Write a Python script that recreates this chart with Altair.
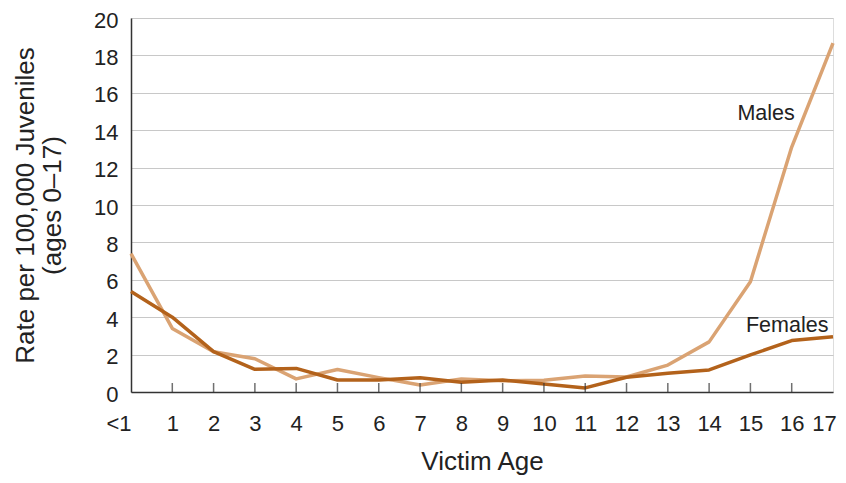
import altair as alt
import pandas as pd

ages = list(range(18))  # 0 stands for "<1"
males = [7.4, 3.4, 2.15, 1.78, 0.7, 1.2, 0.77, 0.37, 0.7, 0.6, 0.63, 0.86, 0.8, 1.44, 2.68, 5.9, 13.1, 18.66]
females = [5.37, 4.0, 2.16, 1.21, 1.26, 0.64, 0.64, 0.76, 0.52, 0.64, 0.43, 0.22, 0.79, 1.0, 1.18, 1.98, 2.75, 2.96]
tick_ages = list(range(1, 17))
y_ticks = list(range(0, 21, 2))
label_text = ["Males", "Females"]
label_x = [15.38, 15.89]
label_y = [14.55, 3.21]

FONT = "Liberation Sans"
C_M = "#DAA373"
C_F = "#B3621B"

df = pd.DataFrame({
    "age": ages * 2,
    "rate": males + females,
    "sex": ["Males"] * 18 + ["Females"] * 18,
})
ticks = pd.DataFrame({"age": tick_ages, "zero": [0] * len(tick_ages)})
labels = pd.DataFrame({"text": label_text, "x": label_x, "y": label_y})

xscale = alt.Scale(domain=[0, 17], nice=False, zero=False)
yscale = alt.Scale(domain=[0, 20], nice=False)

xaxis = alt.Axis(values=ages, title="Victim Age", grid=False, tickSize=0,
                 labelExpr="datum.value == 0 ? '<1' : datum.value",
                 labelAlign=alt.condition("datum.value == 0", alt.value("right"), alt.value("center")),
                 labelOffset=alt.condition("datum.value == 17", alt.value(-9), alt.value(0)),
                 labelOverlap=False,
                 labelFontSize=22, labelPadding=21, labelColor="#222",
                 titleFontSize=26, titleFontWeight="normal", titleY=77, titleBaseline="alphabetic",
                 titleColor="#222", domainColor="#333", domainWidth=1.5,
                 labelFont=FONT, titleFont=FONT)
yaxis = alt.Axis(values=y_ticks, tickSize=0, labelOverlap=False, labelOffset=2,
                 title=["Rate per 100,000 Juveniles", "(ages 0–17)"],
                 labelFontSize=22, labelPadding=13, labelColor="#222",
                 titleFontSize=26, titleLineHeight=27, titleFontWeight="normal", titlePadding=28,
                 titleColor="#222", domainColor="#333", domainWidth=1.5,
                 gridColor="#C8C8C8", gridWidth=1.2,
                 labelFont=FONT, titleFont=FONT)

lines = alt.Chart(df).mark_line(strokeWidth=3.5, strokeJoin="round").encode(
    x=alt.X("age:Q", scale=xscale, axis=xaxis),
    y=alt.Y("rate:Q", scale=yscale, axis=yaxis),
    color=alt.Color("sex:N", scale=alt.Scale(domain=["Males", "Females"], range=[C_M, C_F]), legend=None),
    order=alt.Order("age:Q"),
)

tickmarks = alt.Chart(ticks).mark_tick(orient="vertical", size=9, thickness=1.5, color="#333", yOffset=-4.5).encode(
    x=alt.X("age:Q", scale=xscale, axis=xaxis),
    y=alt.Y("zero:Q", scale=yscale, axis=yaxis),
)

text = alt.Chart(labels).mark_text(font=FONT, fontSize=21.5, color="#222", align="center", baseline="alphabetic").encode(
    x=alt.X("x:Q", scale=xscale, axis=xaxis),
    y=alt.Y("y:Q", scale=yscale, axis=yaxis),
    text="text:N",
)

chart = alt.layer(lines, tickmarks, text).properties(
    width=702, height=374,
    autosize=alt.AutoSizeParams(type="none"),
    padding={"left": 123, "top": 10, "right": 5, "bottom": 83},
).configure_view(stroke="#333", strokeWidth=1.5).configure(background="white")

chart.save("out.html", embed_options={"renderer": "svg", "actions": False})
